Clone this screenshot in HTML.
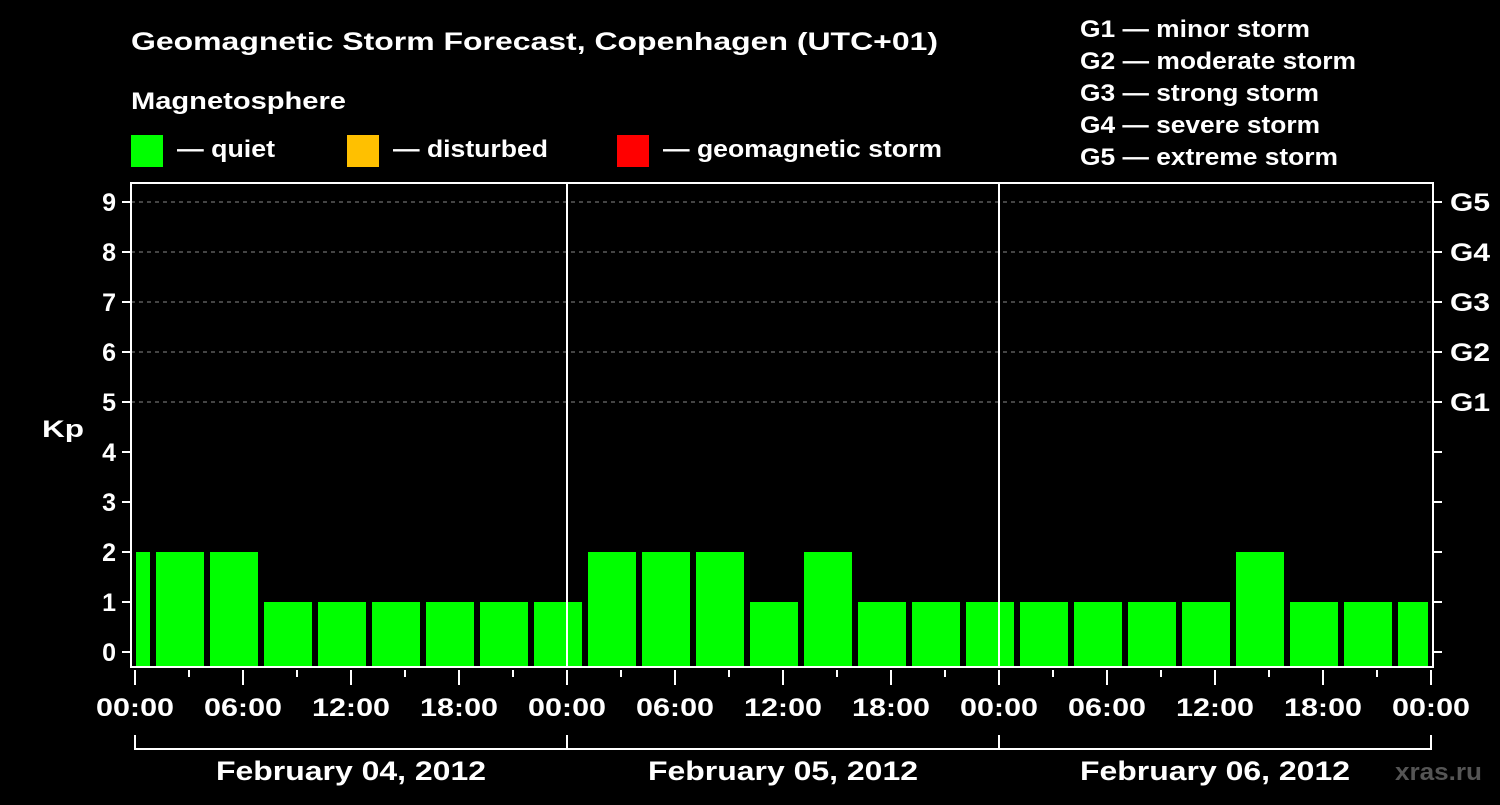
<!DOCTYPE html>
<html><head><meta charset="utf-8"><style>
html,body{margin:0;padding:0;background:#000}
svg text{font-family:"Liberation Sans",sans-serif;font-weight:bold;fill:#fff}
</style></head><body>
<svg id="chart" width="1500" height="800" xmlns="http://www.w3.org/2000/svg">
<rect width="1500" height="800" fill="#000"/>
<text x="131" y="50" font-size="25" textLength="807" lengthAdjust="spacingAndGlyphs">Geomagnetic Storm Forecast, Copenhagen (UTC+01)</text>
<text x="131" y="109" font-size="24" textLength="215" lengthAdjust="spacingAndGlyphs">Magnetosphere</text>
<g><rect x="131" y="135" width="32" height="32" fill="#00ff00"/><text x="177" y="157" font-size="24" textLength="98" lengthAdjust="spacingAndGlyphs">— quiet</text></g>
<g><rect x="347" y="135" width="32" height="32" fill="#ffc000"/><text x="393" y="157" font-size="24" textLength="155" lengthAdjust="spacingAndGlyphs">— disturbed</text></g>
<g><rect x="617" y="135" width="32" height="32" fill="#ff0000"/><text x="663" y="157" font-size="24" textLength="279" lengthAdjust="spacingAndGlyphs">— geomagnetic storm</text></g>
<g font-size="24">
<text x="1080" y="37" textLength="230" lengthAdjust="spacingAndGlyphs">G1 — minor storm</text>
<text x="1080" y="69" textLength="276" lengthAdjust="spacingAndGlyphs">G2 — moderate storm</text>
<text x="1080" y="101" textLength="239" lengthAdjust="spacingAndGlyphs">G3 — strong storm</text>
<text x="1080" y="133" textLength="240" lengthAdjust="spacingAndGlyphs">G4 — severe storm</text>
<text x="1080" y="165" textLength="258" lengthAdjust="spacingAndGlyphs">G5 — extreme storm</text>
</g>
<text x="42" y="437" font-size="24" textLength="42" lengthAdjust="spacingAndGlyphs">Kp</text>
<text x="1395" y="780" font-size="24" textLength="87" lengthAdjust="spacingAndGlyphs" style="fill:#555">xras.ru</text>
<g id="grid"></g><g id="bars"></g><g id="axes"></g>
</svg>
<script>
const kpValues=[2,2,2,1,1,1,1,1,1,2,2,2,1,2,1,1,1,1,1,1,1,2,1,1,1];
const dayLabels=["February 04, 2012","February 05, 2012","February 06, 2012"];
const yTicks=[0,1,2,3,4,5,6,7,8,9];
const gLabels=["G1","G2","G3","G4","G5"];
const gLevels=[5,6,7,8,9];
const xTickLabels=["00:00","06:00","12:00","18:00"];
const NS="http://www.w3.org/2000/svg";
const X0=135, PXH=18, PL=131, PR=1433, PT=183, PB=667;
const xs=h=>X0+h*PXH;
const ys=v=>652-v*50;
function mk(t,a,p){const e=document.createElementNS(NS,t);for(const k in a)e.setAttribute(k,a[k]);p.appendChild(e);return e;}
const gridG=document.getElementById('grid'),barsG=document.getElementById('bars'),axesG=document.getElementById('axes');
gLevels.forEach(v=>{const l=mk('line',{x1:PL,x2:PR,y1:ys(v),y2:ys(v),stroke:'#888','stroke-dasharray':'4,4','stroke-width':1},gridG);

});
const endH=72;
kpValues.forEach((v,i)=>{let h0=-2+3*i,h1=h0+3;let a=Math.max(xs(h0)+3,xs(0)+1),b=Math.min(xs(h1)-3,xs(endH)-3);
const r=mk('rect',{x:a,y:ys(v),width:b-a,height:PB-ys(v),fill:'#00ff00'},barsG);

});
[1,2].forEach(d=>{const l=mk('line',{x1:xs(24*d),x2:xs(24*d),y1:PT,y2:PB,stroke:'#fff','stroke-width':2},axesG);

});
const frame=mk('rect',{x:PL,y:PT,width:PR-PL,height:PB-PT,fill:'none',stroke:'#fff','stroke-width':2},axesG);


yTicks.forEach(v=>{mk('line',{x1:PL-9,x2:PL,y1:ys(v),y2:ys(v),stroke:'#fff','stroke-width':2},axesG);
mk('line',{x1:PR,x2:PR+9,y1:ys(v),y2:ys(v),stroke:'#fff','stroke-width':2},axesG);
const t=mk('text',{x:116,y:ys(v)+9,'font-size':25,'text-anchor':'end'},axesG);t.textContent=v;

});
gLabels.forEach((g,i)=>{const t=mk('text',{x:1450,y:ys(gLevels[i])+9,'font-size':25,textLength:40,lengthAdjust:'spacingAndGlyphs'},axesG);t.textContent=g;

});
for(let h=0;h<=72;h+=3){const major=h%6===0;mk('line',{x1:xs(h),x2:xs(h),y1:PB+3,y2:PB+(major?18:10),stroke:'#fff','stroke-width':2},axesG);
if(major&&h%6===0&&(h%12===0||true)){ if(h%6===0 && (h/6)%1===0 && h%12!==6 || true){}
}
}
for(let h=0;h<=72;h+=6){
const t=mk('text',{x:xs(h)-39,y:716,'font-size':25,textLength:78,lengthAdjust:'spacingAndGlyphs'},axesG);t.textContent=h%24===0?"00:00":xTickLabels[(h%24)/6];

}
mk('path',{d:`M${xs(0)} 735V749H${xs(72)}V735M${xs(24)} 735V749M${xs(48)} 735V749`,stroke:'#fff','stroke-width':2,fill:'none'},axesG);
dayLabels.forEach((d,i)=>{const t=mk('text',{x:xs(24*i+12)-135,y:780,'font-size':27,textLength:270,lengthAdjust:'spacingAndGlyphs'},axesG);t.textContent=d;

});
</script>
</body></html>
